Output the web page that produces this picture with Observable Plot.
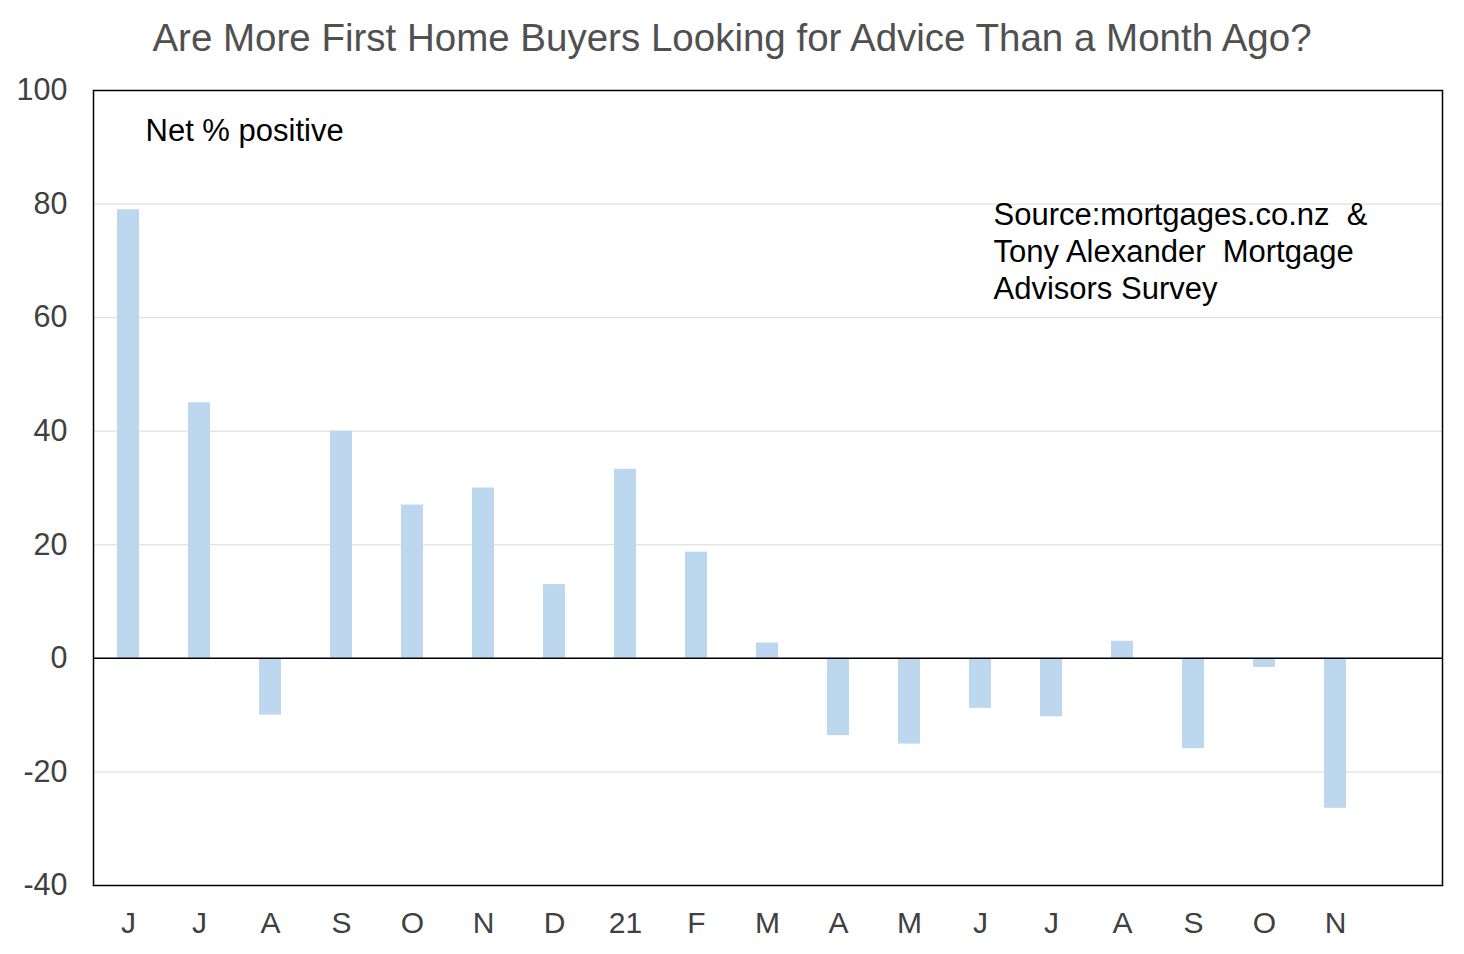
<!DOCTYPE html>
<html>
<head>
<meta charset="utf-8">
<script src="https://cdn.jsdelivr.net/npm/d3@7"></script>
<script src="https://cdn.jsdelivr.net/npm/@observablehq/plot@0.6"></script>
<style>
  body { margin: 0; background: #fff; font-family: "Liberation Sans", Arial, sans-serif; }
  #title { height: 70px; line-height: 76px; text-align: center; font-size: 38.5px; color: #505050; }
</style>
</head>
<body>
<div id="title">Are More First Home Buyers Looking for Advice Than a Month Ago?</div>
<div id="chart"></div>
<script>
const monthLabels = ["J","J","A","S","O","N","D","21","F","M","A","M","J","J","A","S","O","N",""];
const values = [79, 45, -10, 40, 27, 30, 13, 33.3, 18.7, 2.7, -13.6, -15.1, -8.8, -10.3, 3, -15.9, -1.6, -26.4];
const yTicks = [-40, -20, 0, 20, 40, 60, 80, 100];
const noteText = "Net % positive";
const sourceLines = ["Source:mortgages.co.nz  &", "Tony Alexander  Mortgage", "Advisors Survey"];

const data = values.map((v, i) => ({i, v}));
const domain = monthLabels.map((_, i) => i);

const chart = Plot.plot({
  width: 1464,
  height: 884,
  marginTop: 20,
  marginBottom: 69,
  marginLeft: 93,
  marginRight: 22,
  style: {fontFamily: "'Liberation Sans', Arial, sans-serif", background: "#fff"},
  x: {type: "band", domain, paddingInner: 0.69, paddingOuter: 0.345, label: null},
  y: {domain: [-40, 100], label: null},
  marks: [
    Plot.gridY(yTicks, {stroke: "#d9d9d9", strokeOpacity: 1, strokeWidth: 1}),
    Plot.barY(data, {x: "i", y: "v", fill: "#bdd7ee"}),
    Plot.ruleY([0], {stroke: "#000", strokeWidth: 1.5}),
    Plot.frame({stroke: "#000", strokeWidth: 1.5}),
    Plot.axisY(yTicks, {tickSize: 0, tickPadding: 26, fontSize: 30.5, fill: "#404040", label: null, tickFormat: d => String(d)}),
    Plot.axisX(domain, {tickSize: 0, tickPadding: 26, fontSize: 30, fill: "#404040", tickFormat: i => monthLabels[i], label: null}),
    Plot.text([noteText], {frameAnchor: "top-left", dx: 52, dy: 28, fontSize: 31, fill: "#000", textAnchor: "start", lineAnchor: "top"}),
    Plot.text([sourceLines.join("\n")], {frameAnchor: "top-left", dx: 900, dy: 109, fontSize: 31, lineHeight: 1.18, fill: "#000", textAnchor: "start", lineAnchor: "top"})
  ]
});
document.getElementById("chart").appendChild(chart);
</script>
</body>
</html>
